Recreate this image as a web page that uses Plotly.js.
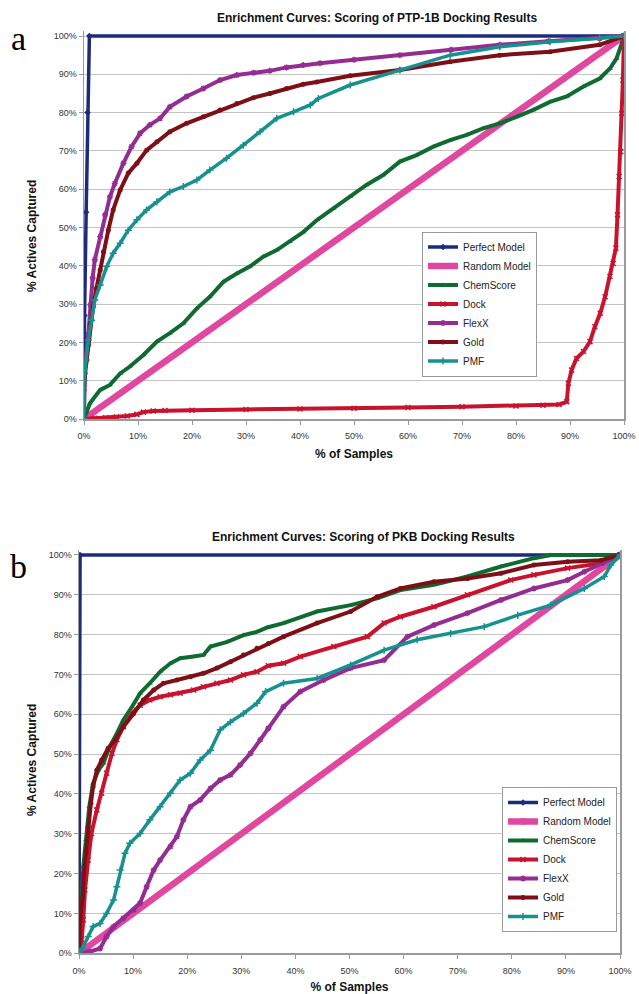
<!DOCTYPE html>
<html>
<head>
<meta charset="utf-8">
<script src="https://cdn.plot.ly/plotly-3.0.1.min.js"></script>
<style>
  html, body { margin: 0; padding: 0; background: #fff; }
  #chart { width: 639px; height: 994px; }
</style>
</head>
<body>
<div id="chart"></div>
<script>
// ---------- Shared ----------
const seriesNames = ["Perfect Model", "Random Model", "ChemScore", "Dock", "FlexX", "Gold", "PMF"];
const tickVals = [0, 10, 20, 30, 40, 50, 60, 70, 80, 90, 100];
const tickLabels = ["0%", "10%", "20%", "30%", "40%", "50%", "60%", "70%", "80%", "90%", "100%"];

// ---------- Data: panel a (PTP-1B) ----------
const aPerfectX = [0, 0.1, 0.4, 0.65, 1.0, 100];
const aPerfectY = [0, 27, 54, 80, 100, 100];
const aRandomX = [0, 100];
const aRandomY = [0, 100];
const aChemX = [0, 1.1, 3, 4.8, 6.7, 8.5, 11, 13.5, 15.9, 18.4, 20.9, 23.3, 25.8, 28.3, 30.7, 33.2, 35.7, 38.1, 40.6, 43.2, 46.2, 49.3, 52.3, 55.4, 58.5, 61.6, 64.7, 67.8, 70.9, 73.9, 77, 80.1, 83.2, 86.3, 89.4, 92.5, 95.5, 97.4, 98.6, 99.5, 100];
const aChemY = [0, 4.1, 7.6, 8.9, 11.9, 13.7, 16.7, 20.2, 22.4, 25, 28.9, 31.9, 35.8, 38, 39.8, 42.4, 44.1, 46.3, 48.8, 52, 55, 58, 61.1, 63.7, 67.2, 68.9, 71.1, 72.8, 74.2, 75.9, 77.2, 78.9, 80.7, 82.8, 84.2, 86.8, 88.9, 91.5, 94.1, 97.7, 100];
const aDockX = [0, 2, 4, 6, 8, 9.8, 11, 12.8, 15, 20, 30, 40, 50, 60, 70, 80, 85, 88, 89.4, 89.7, 90.3, 91.2, 92.5, 93.7, 94.6, 95.6, 96.5, 97.4, 98, 98.5, 98.8, 99.1, 99.4, 99.6, 99.8, 100];
const aDockY = [0, 0.2, 0.3, 0.5, 0.8, 1.2, 1.8, 2.1, 2.2, 2.3, 2.5, 2.6, 2.8, 3.0, 3.2, 3.4, 3.6, 3.8, 4.5, 9.3, 12.8, 15.8, 17.6, 20.2, 24.1, 27.6, 31.9, 37.2, 40.6, 44.6, 53.3, 63.3, 69.8, 79.8, 88.5, 100];
const aFlexX = [0, 0.2, 0.8, 1.2, 1.6, 2.0, 3.0, 3.9, 4.8, 5.7, 7.3, 8.8, 10.4, 12.2, 14.1, 15.9, 19, 22.1, 25.2, 28.3, 31.4, 34.4, 37.5, 40.6, 43.7, 50, 58.5, 68, 77, 86, 95.5, 100];
const aFlexY = [0, 14.5, 22, 29.8, 36.8, 41.6, 47.6, 53.3, 58, 61.5, 66.8, 71.1, 74.6, 76.8, 78.5, 81.5, 84.2, 86.3, 88.5, 89.8, 90.4, 90.9, 91.8, 92.4, 92.9, 93.8, 95, 96.4, 97.7, 98.6, 99.4, 100];
const aGoldX = [0, 0, 0.2, 0.5, 0.8, 1.2, 1.7, 2.3, 3.0, 3.6, 4.5, 5.4, 6.7, 8.2, 9.8, 11.6, 13.5, 15.9, 19, 22.1, 25.2, 28.3, 31.4, 34.4, 37.5, 40.6, 43.1, 49.3, 58.5, 67.8, 77, 86.3, 95.5, 100];
const aGoldY = [0, 7.6, 11.9, 15.4, 19.3, 25, 29.3, 34.1, 38.9, 43.7, 49.3, 54.6, 59.8, 64.2, 66.8, 70.2, 72.4, 75, 77.2, 78.9, 80.7, 82.4, 83.9, 85, 86.3, 87.4, 88.0, 89.6, 91.1, 93.3, 95, 95.9, 97.7, 100];
const aPmfX = [0, 0, 0.4, 0.8, 1.4, 2.0, 3.0, 4.2, 5.4, 6.7, 8.2, 9.8, 11.6, 13.5, 15.9, 18.4, 20.9, 23.3, 26.4, 29.5, 32.6, 35.7, 38.8, 41.9, 43.4, 49.3, 58.5, 67.8, 77, 86.3, 95.5, 100];
const aPmfY = [0, 10, 15.4, 20.6, 25.8, 31.1, 35, 39.8, 43.3, 45.9, 49.3, 52, 54.6, 56.7, 59.3, 60.7, 62.4, 65, 68.1, 71.5, 75, 78.5, 80.2, 82, 83.7, 87.2, 91.1, 95, 97.2, 98.5, 99.4, 100];

// ---------- Data: panel b (PKB) ----------
const bPerfectX = [0, 0.2, 100];
const bPerfectY = [0, 100, 100];
const bRandomX = [0, 100];
const bRandomY = [0, 100];
const bChemX = [0, 0.5, 0.8, 1.3, 1.9, 2.6, 3.6, 4.5, 5.7, 7, 8.2, 9.8, 11.3, 13.1, 15, 16.9, 18.7, 21.2, 23, 24.3, 27.4, 30.4, 32.9, 34.8, 37.8, 44, 50.2, 55.1, 59.4, 65.6, 71.8, 78, 84.1, 87.2, 100];
const bChemY = [0, 10, 21.8, 28.5, 36.8, 42.7, 46, 47.7, 51.9, 55.2, 58.6, 61.9, 65.3, 67.8, 70.7, 72.8, 74.1, 74.5, 74.9, 77, 78.2, 79.9, 80.7, 81.8, 82.9, 85.8, 87.4, 89.1, 91.2, 92.5, 94.6, 97.1, 99.2, 100, 100];
const bDockX = [0, 0.5, 0.8, 1.1, 1.7, 2.3, 3.3, 4.2, 5.1, 6.1, 7, 8.2, 9.8, 11.3, 13.1, 15, 16.9, 18.7, 21.2, 23, 25.5, 28, 30.4, 32.9, 35, 37.8, 40.9, 47.1, 53.3, 56.4, 59.4, 65.6, 71.8, 79.8, 84.1, 90.3, 96.5, 100];
const bDockY = [0, 3.4, 8.4, 15.9, 23.4, 30.1, 36, 40.2, 45.2, 50.2, 53.6, 56.9, 60.2, 62.3, 63.6, 64.4, 64.9, 65.3, 66.1, 66.9, 67.8, 68.6, 69.9, 70.7, 72.2, 72.8, 74.5, 77, 79.5, 82.9, 84.5, 87, 90, 93.7, 95, 96.7, 97.9, 100];
const bFlexX = [0, 1.9, 3.9, 5.1, 6.4, 8.2, 10.1, 11.3, 12.5, 13.8, 15, 16.9, 18.1, 19.3, 20.6, 22.4, 24.3, 26.1, 28, 29.8, 31.7, 33.5, 35, 37.8, 40.9, 45.2, 50.2, 56.4, 60.7, 65.6, 71.8, 78, 84.1, 90.3, 93.4, 97.1, 100];
const bFlexY = [0, 0.4, 1.2, 4.2, 6.7, 8.8, 10.9, 12.6, 16.7, 20.9, 23.4, 26.8, 29.3, 33.5, 36.8, 38.5, 41.4, 43.5, 44.8, 47.3, 50.2, 53.6, 56.5, 61.9, 65.7, 68.6, 71.6, 73.6, 79.5, 82.4, 85.4, 88.7, 91.6, 93.7, 95.8, 98.3, 100];
const bGoldX = [0, 0.2, 0.7, 0.9, 1.3, 1.7, 2.2, 2.6, 3.3, 4.2, 5.4, 6.7, 8.2, 10.1, 11.9, 13.8, 15.6, 18.1, 20.6, 23, 25.5, 28, 30.4, 32.9, 35, 37.8, 44, 50.2, 55.1, 59.4, 65.6, 71.8, 78, 84.1, 90.3, 96.5, 100];
const bGoldY = [0, 8.4, 14.2, 20.1, 25.5, 31.8, 37.7, 41.8, 46, 48.5, 51.5, 53.6, 56.9, 60.2, 63.6, 66.1, 67.8, 68.6, 69.4, 70.3, 71.6, 73.2, 74.9, 76.6, 77.8, 79.5, 82.9, 85.8, 89.5, 91.6, 93.3, 94.1, 95.4, 97.5, 98.3, 98.7, 100];
const bPmfX = [0, 0.6, 1.7, 2.6, 3.9, 5.1, 6.4, 7, 7.6, 8.5, 9.4, 11.3, 13.1, 15, 16.9, 18.7, 20.6, 22.4, 24.3, 26.1, 28, 30.4, 32.9, 34.5, 37.8, 44, 50.2, 56.4, 62.5, 68.7, 74.9, 81.1, 87.2, 93.4, 97.1, 98.3, 100];
const bPmfY = [0, 1.2, 4.2, 6.7, 7.5, 10, 13.4, 16.7, 20.9, 25.1, 27.6, 30.1, 33.5, 36.8, 40.2, 43.5, 45.2, 48.5, 51, 56.1, 58.1, 60.2, 62.8, 65.7, 67.8, 69, 72.4, 76.1, 78.7, 80.3, 82, 84.9, 87.4, 91.6, 94.6, 97.5, 100];

// ---------- Styles ----------
const FONT = "Liberation Sans, Arial, sans-serif";
const styles = [
  {color: "#1d2b7c", symbol: "diamond", lw: 3.5, ms: 5, open: false},
  {color: "#e0479e", symbol: "square", lw: 6.5, ms: 6, open: false},
  {color: "#0f6b31", symbol: "triangle-up", lw: 4, ms: 5, open: false},
  {color: "#c8132f", symbol: "x-thin-open", lw: 4, ms: 5, open: true},
  {color: "#932d92", symbol: "asterisk-open", lw: 4, ms: 5, open: true},
  {color: "#7c1016", symbol: "circle", lw: 4, ms: 5, open: false},
  {color: "#17918f", symbol: "cross-thin-open", lw: 3.5, ms: 5, open: true}
];

function makeTraces(xs, ys, xa, ya, leg) {
  return xs.map((x, i) => {
    const s = styles[i];
    return {
      type: "scatter", mode: "lines+markers",
      name: seriesNames[i], x: x, y: ys[i],
      xaxis: xa, yaxis: ya, legend: leg,
      line: {color: s.color, width: s.lw},
      marker: {symbol: s.symbol, size: s.ms, color: s.color,
               line: {color: s.color, width: s.open ? 1.5 : 0}},
      hoverinfo: "skip"
    };
  });
}

const traces = [].concat(
  makeTraces([aPerfectX, aRandomX, aChemX, aDockX, aFlexX, aGoldX, aPmfX],
             [aPerfectY, aRandomY, aChemY, aDockY, aFlexY, aGoldY, aPmfY], "x", "y", "legend"),
  makeTraces([bPerfectX, bRandomX, bChemX, bDockX, bFlexX, bGoldX, bPmfX],
             [bPerfectY, bRandomY, bChemY, bDockY, bFlexY, bGoldY, bPmfY], "x2", "y2", "legend2")
);

const W = 639, H = 994;
function xAxis(dom, anchor) {
  return {
    domain: dom, anchor: anchor, range: [0, 100],
    tickmode: "array", tickvals: tickVals, ticktext: tickLabels,
    showgrid: false, zeroline: false, showline: true, linecolor: "#9a9a9a", linewidth: 1.5,
    ticks: "outside", ticklen: 4, tickcolor: "#9a9a9a", tickwidth: 1, ticklabelstandoff: 4,
    tickfont: {family: FONT, size: 9, color: "#333"}, fixedrange: true,
    title: {text: "% of Samples", font: {family: FONT, size: 12, color: "#111", weight: 700}, standoff: 9}
  };
}
function yAxis(dom, anchor) {
  return {
    domain: dom, anchor: anchor, range: [0, 101.2],
    tickmode: "array", tickvals: tickVals, ticktext: tickLabels,
    showgrid: true, gridcolor: "#c4c4c4", gridwidth: 1, zeroline: false,
    showline: true, mirror: true, linecolor: "#9a9a9a", linewidth: 1.5,
    ticks: "outside", ticklen: 4, tickcolor: "#9a9a9a", tickwidth: 1,
    tickfont: {family: FONT, size: 9, color: "#333"}, fixedrange: true
  };
}
function legendCfg(x, y, yanchor) {
  return {
    x: x, y: y, xanchor: "left", yanchor: yanchor, bgcolor: "#ffffff",
    bordercolor: "#9a9a9a", borderwidth: 1, tracegroupgap: 0, itemwidth: 30,
    font: {family: FONT, size: 10, color: "#222"}
  };
}

const layout = {
  width: W, height: H, margin: {l: 0, r: 0, t: 0, b: 0},
  paper_bgcolor: "#fff", plot_bgcolor: "#fff", showlegend: true,
  xaxis: xAxis([84 / W, 624 / W], "y"),
  yaxis: yAxis([1 - 419 / H, 1 - 31.4 / H], "x"),
  xaxis2: xAxis([79 / W, 620 / W], "y2"),
  yaxis2: yAxis([1 - 953.3 / H, 1 - 550.2 / H], "x2"),
  legend: legendCfg(422 / W, 1 - 304 / H, "middle"),
  legend2: legendCfg(502 / W, 1 - 932 / H, "bottom"),
  annotations: [
    {text: "Enrichment Curves: Scoring of PTP-1B Docking Results", xref: "paper", yref: "paper",
     x: 377 / W, y: 1 - 18 / H, xanchor: "center", yanchor: "middle", showarrow: false,
     font: {family: FONT, size: 12, color: "#111", weight: 700}},
    {text: "Enrichment Curves: Scoring of PKB Docking Results", xref: "paper", yref: "paper",
     x: 363 / W, y: 1 - 537 / H, xanchor: "center", yanchor: "middle", showarrow: false,
     font: {family: FONT, size: 12, color: "#111", weight: 700}},
    {text: "a", xref: "paper", yref: "paper", x: 18 / W, y: 1 - 38 / H,
     xanchor: "center", yanchor: "middle", showarrow: false,
     font: {family: "Liberation Serif, Times New Roman, serif", size: 34, color: "#000"}},
    {text: "b", xref: "paper", yref: "paper", x: 18 / W, y: 1 - 566 / H,
     xanchor: "center", yanchor: "middle", showarrow: false,
     font: {family: "Liberation Serif, Times New Roman, serif", size: 34, color: "#000"}},
    {text: "% Actives Captured", xref: "paper", yref: "paper", x: 32 / W, y: 1 - 236 / H,
     xanchor: "center", yanchor: "middle", textangle: -90, showarrow: false,
     font: {family: FONT, size: 12, color: "#111", weight: 700}},
    {text: "% Actives Captured", xref: "paper", yref: "paper", x: 32 / W, y: 1 - 760 / H,
     xanchor: "center", yanchor: "middle", textangle: -90, showarrow: false,
     font: {family: FONT, size: 12, color: "#111", weight: 700}}
  ]
};

Plotly.newPlot("chart", traces, layout, {staticPlot: true, displayModeBar: false});
</script>
</body>
</html>
